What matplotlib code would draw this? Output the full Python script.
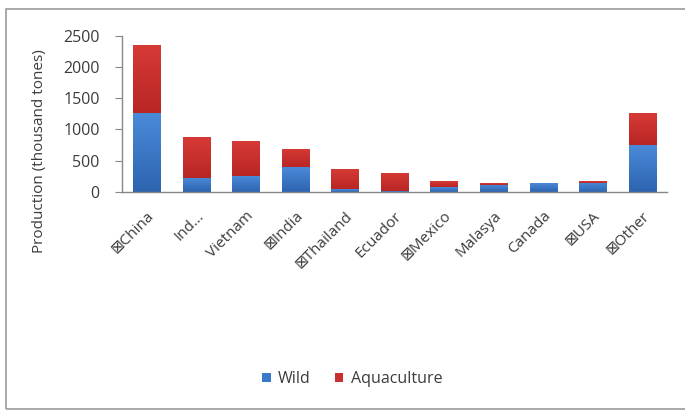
import matplotlib
matplotlib.use('Agg')
import matplotlib.pyplot as plt
from matplotlib.colors import LinearSegmentedColormap
from matplotlib.patches import Rectangle
import numpy as np

matplotlib.rcParams['font.family'] = ['Open Sans', 'DejaVu Sans']

# shrimp production by country, thousand tonnes
countries = ['\u22a0China', 'Ind...', 'Vietnam', '\u22a0India', '\u22a0Thailand', 'Ecuador',
             '\u22a0Mexico', 'Malasya', 'Canada', '\u22a0USA', '\u22a0Other']
wild = [1260, 225, 255, 395, 40, 5, 80, 115, 135, 145, 750]
aquaculture = [1090, 645, 555, 290, 320, 290, 88, 22, 0, 27, 505]
yticks = [0, 500, 1000, 1500, 2000, 2500]

blue = '#3a78c9'
red = '#c9302d'
txt = '#3c3c3c'

fig = plt.figure(figsize=(6.85, 4.11), dpi=100)
W, H = 685, 411

# frame round the chart area
fig.patches.append(Rectangle((6 / W, 2 / H), 690 / W, (H - 11) / H,
                             transform=fig.transFigure, fill=False,
                             edgecolor='#9a9a9a', linewidth=1.2))

ax = fig.add_axes([122 / W, (H - 191.7) / H, 545 / W, 156 / H])
x = np.arange(len(countries))
b1 = ax.bar(x, wild, width=0.55, color=blue, label='Wild')
b2 = ax.bar(x, aquaculture, width=0.55, bottom=wild, color=red, label='Aquaculture')

# soft vertical shading inside each bar, darker toward the bottom
shades = {blue: ('#2d64b0', '#4a8ad8'), red: ('#b82624', '#d63a36')}
grad = np.linspace(0, 1, 64).reshape(-1, 1)
for bars, c in [(b1, blue), (b2, red)]:
    cmap = LinearSegmentedColormap.from_list('shade', shades[c])
    for p in bars:
        if p.get_height() <= 0:
            continue
        bx, by = p.get_x(), p.get_y()
        im = ax.imshow(grad, cmap=cmap, origin='lower', aspect='auto',
                       extent=[bx, bx + p.get_width(), by, by + p.get_height()],
                       zorder=p.get_zorder() + 0.1, interpolation='bilinear')
        im.set_clip_path(p)

ax.set_xlim(-0.5, len(countries) - 0.5)
ax.set_ylim(0, 2500)
ax.set_yticks(yticks)
ax.set_yticklabels([str(t) for t in yticks], fontsize=11.5, color=txt)
ax.set_xticks(x)
ax.set_xticklabels(countries, rotation=45, ha='right', va='top',
                   rotation_mode='anchor', fontsize=11, color=txt)
ax.tick_params(axis='x', length=0, pad=12)
ax.tick_params(axis='y', length=5, color='#888888', pad=11)

for s in ['top', 'right']:
    ax.spines[s].set_visible(False)
for s in ['left', 'bottom']:
    ax.spines[s].set_color('#888888')
    ax.spines[s].set_linewidth(1.0)
    ax.spines[s].set_zorder(5)

ax.set_ylabel('Production (thousand tones)', fontsize=11, color=txt)
ax.yaxis.set_label_coords((47 - 122) / 545, (191.7 - 151) / 156)

fig.legend(handles=[b1, b2], loc='center', bbox_to_anchor=(352 / W, (H - 379) / H), ncol=2,
           frameon=False, fontsize=11.5, handlelength=0.55, handleheight=0.55,
           handletextpad=0.45, columnspacing=1.5, labelcolor=txt)

fig.savefig('out.png', dpi=100)
